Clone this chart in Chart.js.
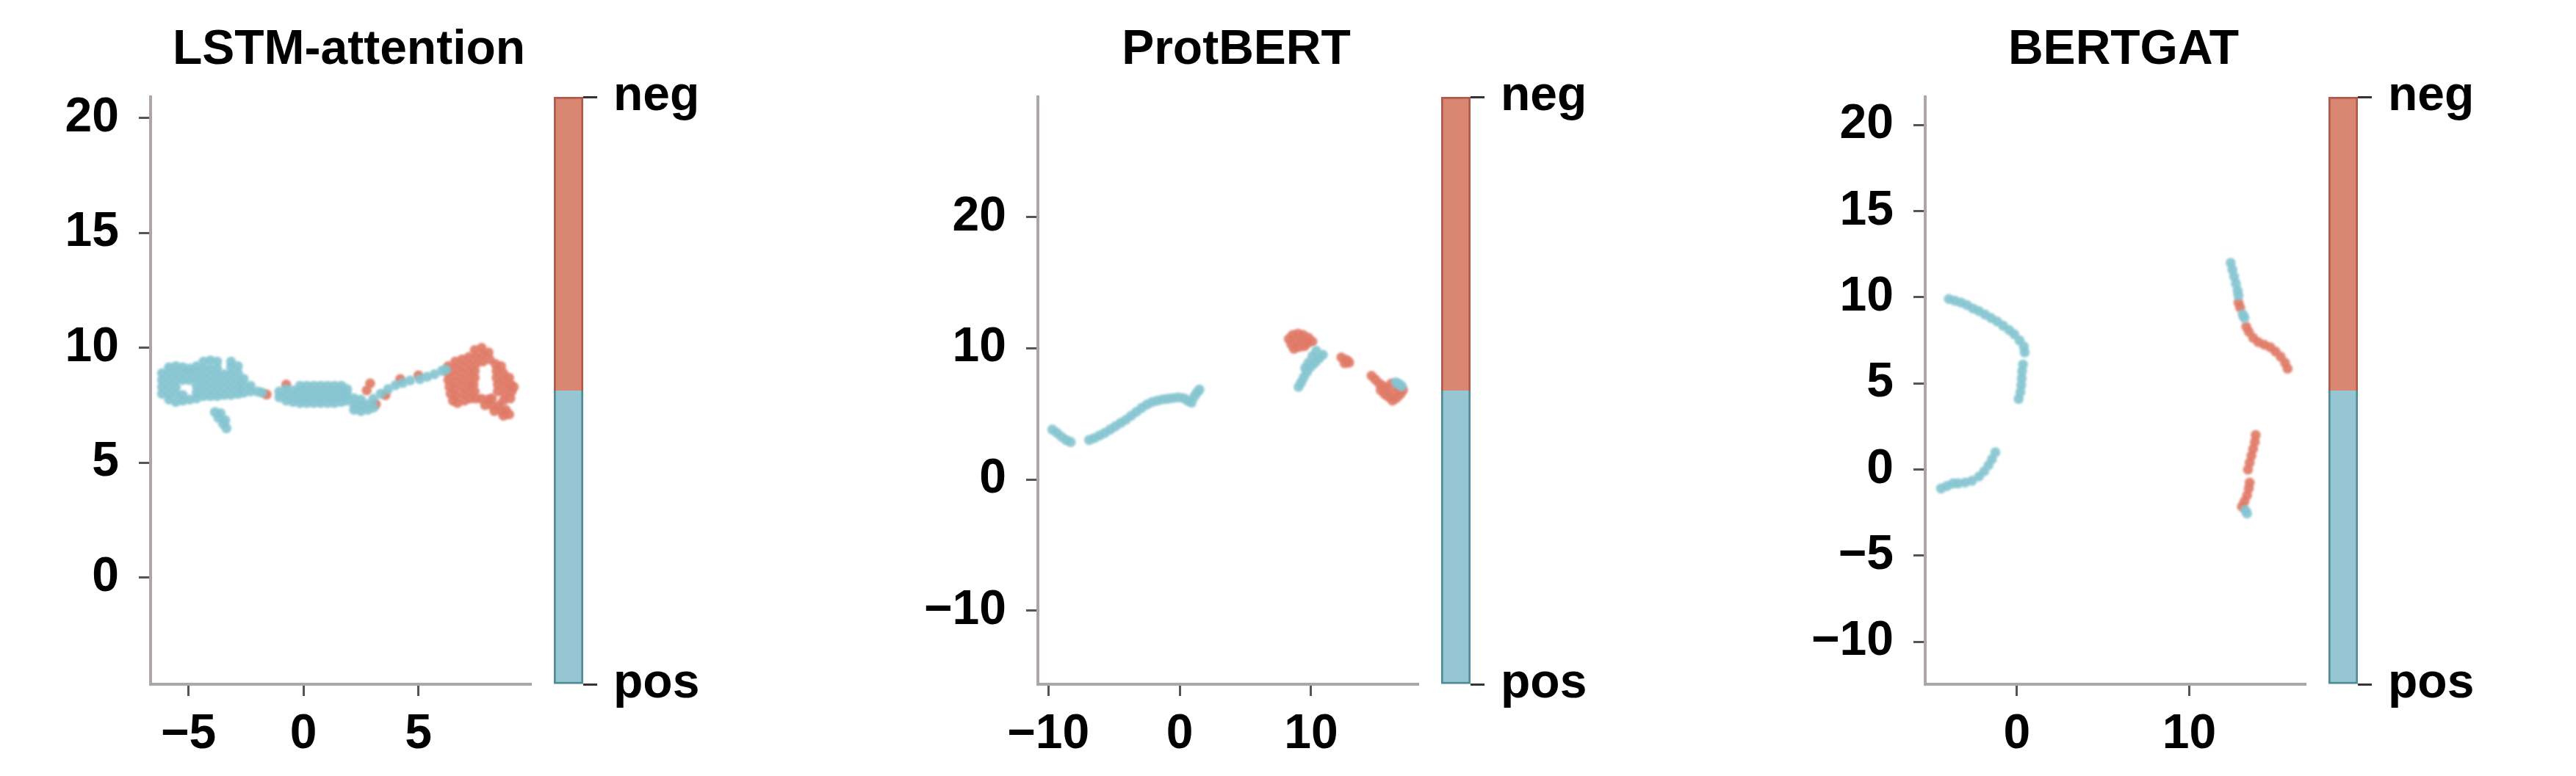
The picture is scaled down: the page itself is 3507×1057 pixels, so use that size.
<!DOCTYPE html>
<html lang="en">
<head>
  <meta charset="UTF-8">
  <title>Embedding comparison</title>
  <script src="https://cdn.jsdelivr.net/npm/chart.js"></script>
  <style>
    body { margin: 0; background: #fff; width: 3507px; height: 1057px; position: relative; overflow: hidden; font-family: "Liberation Sans", Arial, sans-serif; }
    canvas { position: absolute; top: 0; }
    .title { position: absolute; top: 31px; font-size: 66px; line-height: 66px; font-weight: bold; color: #000; white-space: nowrap; transform: translateX(-50%); }
  </style>
</head>
<body>
  <script>
    // ---- data ----
    const titles = ['LSTM-attention', 'ProtBERT', 'BERTGAT'];
    const classes = ['pos', 'neg'];

    const lstmPos = [
      [-6.15,8.0],[-6.15,8.3],[-6.15,8.6],[-6.15,8.9],
      [-5.85,7.75],[-5.85,8.0],[-5.85,8.3],[-5.85,8.6],[-5.85,8.9],[-5.85,9.15],
      [-5.55,7.65],[-5.55,8.0],[-5.55,8.3],[-5.55,8.6],[-5.55,8.9],[-5.55,9.2],
      [-5.25,7.7],[-5.25,7.95],[-5.25,8.6],[-5.25,8.9],[-5.25,9.15],
      [-4.95,7.75],[-4.95,8.6],[-4.95,8.9],[-4.95,9.1],
      [-4.65,7.8],[-4.65,8.05],[-4.65,8.35],[-4.65,8.65],[-4.65,8.95],[-4.65,9.2],
      [-4.35,7.9],[-4.35,8.2],[-4.35,8.5],[-4.35,8.8],[-4.35,9.1],[-4.35,9.4],
      [-4.05,7.9],[-4.05,8.2],[-4.05,8.5],[-4.05,8.8],[-4.05,9.1],[-4.05,9.45],
      [-3.75,7.9],[-3.75,8.2],[-3.75,8.5],[-3.75,8.8],[-3.75,9.1],[-3.75,9.4],
      [-3.45,7.95],[-3.45,8.25],[-3.45,8.55],[-3.45,8.85],
      [-3.15,7.95],[-3.15,8.25],[-3.15,8.55],[-3.15,8.85],[-3.15,9.15],[-3.15,9.4],
      [-2.85,8.0],[-2.85,8.3],[-2.85,8.6],[-2.85,8.9],[-2.85,9.2],
      [-2.6,8.05],[-2.6,8.35],[-2.6,8.65],
      [-2.3,8.1],[-2.3,8.35],[-2.0,8.1],[-1.8,8.05],
      [-3.85,7.2],[-3.7,6.95],[-3.6,7.15],[-3.5,6.7],[-3.35,6.5],[-3.4,6.85],
      [-1.05,7.85],[-1.05,8.1],
      [-0.75,7.7],[-0.75,7.95],[-0.75,8.2],
      [-0.45,7.65],[-0.45,7.9],[-0.45,8.15],
      [-0.15,7.6],[-0.15,7.85],[-0.15,8.1],[-0.15,8.35],
      [0.15,7.6],[0.15,7.85],[0.15,8.1],[0.15,8.35],
      [0.45,7.6],[0.45,7.85],[0.45,8.1],[0.45,8.35],
      [0.75,7.6],[0.75,7.85],[0.75,8.1],[0.75,8.35],
      [1.05,7.6],[1.05,7.85],[1.05,8.1],[1.05,8.35],
      [1.35,7.6],[1.35,7.85],[1.35,8.1],[1.35,8.35],
      [1.65,7.65],[1.65,7.9],[1.65,8.15],[1.65,8.35],
      [1.9,7.7],[1.9,7.95],[1.9,8.2],
      [2.2,7.3],[2.2,7.55],[2.2,7.8],[2.5,7.25],[2.5,7.5],[2.5,7.75],
      [2.8,7.3],[2.8,7.55],[3.05,7.4],
      [3.04,7.78],[3.36,8.0],[3.68,8.2],[4.0,8.37],[4.32,8.47],[4.64,8.58],
      [5.06,8.64],[5.38,8.74],[5.7,8.85],[6.02,9.0],[6.2,9.05]
    ];
    const lstmNeg = [
      [-1.6,7.97],[-0.75,8.4],[2.75,8.15],[2.9,8.45],[3.15,7.55],[3.57,7.94],[4.21,8.64],[5.0,8.8],
      [6.3,9.2],[6.3,8.9],[6.3,8.6],[6.35,8.3],[6.4,8.0],[6.5,7.7],
      [6.6,9.4],[6.6,9.1],[6.6,8.8],[6.6,8.5],[6.6,8.2],[6.65,7.9],[6.7,7.6],
      [6.9,9.5],[6.9,9.2],[6.9,8.9],[6.9,8.6],[6.9,8.3],[6.95,8.0],[7.0,7.7],
      [7.2,9.6],[7.2,9.3],[7.2,9.0],[7.2,8.7],[7.2,8.4],[7.2,8.1],[7.25,7.8],
      [7.45,9.9],[7.5,9.6],[7.5,9.3],[7.75,10.0],[7.8,9.7],[7.8,9.4],[8.05,9.8],[8.1,9.5],
      [7.45,9.0],[7.45,8.7],[7.4,8.4],[7.45,8.1],[7.5,7.8],
      [8.35,9.3],[8.4,9.0],[8.4,8.7],[8.45,8.4],[8.45,8.1],[8.6,9.2],[8.7,8.9],[8.7,8.6],
      [8.75,8.3],[8.75,8.0],[8.7,7.7],[8.95,8.7],[9.0,8.4],[9.05,8.1],[9.0,7.8],[9.15,8.3],
      [7.75,7.78],[8.05,7.75],[8.2,7.8],[7.9,7.5],[8.2,7.5],[8.5,7.5],[8.3,7.25],[8.6,7.25],
      [8.8,7.3],[8.7,7.05],[8.95,7.1]
    ];

    const protPos = [
      [-9.7,3.8],[-9.35,3.55],[-9.0,3.25],[-8.65,3.0],[-8.3,2.85],
      [-6.9,3.0],[-6.5,3.15],[-6.1,3.35],[-5.7,3.55],[-5.3,3.8],[-4.9,4.05],[-4.5,4.3],
      [-4.1,4.55],[-3.7,4.85],[-3.3,5.15],[-2.9,5.45],[-2.5,5.7],[-2.1,5.9],[-1.7,6.0],
      [-1.3,6.1],[-0.9,6.15],[-0.5,6.2],[-0.1,6.25],[0.3,6.2],[0.6,6.0],[0.9,5.85],
      [1.1,6.3],[1.3,6.6],[1.5,6.85],
      [10.9,9.5],[10.6,9.2],[10.3,8.9],[10.0,8.6],[9.7,8.2],[9.45,7.8],[9.25,7.4],[9.05,7.05],
      [10.4,9.8],[10.1,9.4],[9.8,8.9],[9.55,8.5],
      [16.7,7.25],[16.9,7.1],[16.45,7.4]
    ];
    const protNeg = [
      [8.3,10.7],[8.6,11.0],[9.0,11.1],[9.4,11.0],[9.8,10.8],[8.5,10.3],[8.9,10.5],[9.3,10.6],
      [9.7,10.4],[8.7,9.95],[9.1,10.1],[10.1,10.5],[9.5,10.15],
      [12.3,9.3],[12.7,9.1],[12.55,8.85],[12.9,8.9],
      [14.6,7.9],[14.9,7.6],[15.2,7.3],[15.5,7.1],[15.8,6.9],[15.6,6.5],[15.9,6.3],[16.2,6.0],
      [16.5,6.2],[16.8,6.5],[17.0,6.8],[16.3,6.6],[16.6,7.0],[16.1,7.3],[15.3,6.8]
    ];

    const gatPos = [
      [-3.95,9.9],[-3.6,9.8],[-3.25,9.7],[-2.9,9.55],[-2.55,9.35],[-2.2,9.2],[-1.85,9.0],
      [-1.5,8.8],[-1.15,8.6],[-0.8,8.35],[-0.45,8.1],[-0.15,7.85],[0.15,7.5],[0.4,7.15],[0.45,6.8],
      [0.35,6.1],[0.3,5.7],[0.28,5.3],[0.25,4.9],[0.2,4.5],[0.1,4.1],
      [-1.25,1.0],[-1.45,0.6],[-1.65,0.25],[-1.9,-0.1],[-2.2,-0.4],[-2.6,-0.65],[-3.0,-0.75],
      [-3.4,-0.8],[-3.7,-0.8],[-4.05,-0.95],[-4.4,-1.1],
      [12.4,12.0],[12.5,11.6],[12.6,11.2],[12.7,10.8],[12.8,10.4],[12.85,10.1],[13.1,9.0],[13.2,8.8],
      [13.35,-2.55],[13.25,-2.35]
    ];
    const gatNeg = [
      [12.85,9.7],[12.95,9.4],[13.3,8.3],[13.45,8.0],[13.7,7.65],[14.0,7.4],[14.35,7.25],
      [14.7,7.1],[15.0,6.85],[15.3,6.55],[15.55,6.2],[15.7,5.85],
      [13.85,2.0],[13.8,1.6],[13.7,1.2],[13.6,0.8],[13.5,0.4],[13.4,0.0],
      [13.5,-0.75],[13.45,-1.1],[13.35,-1.5],[13.2,-1.85],[13.05,-2.15]
    ];

    // ---- look ----
    const POS_DOT = 'rgba(132,196,208,0.92)';
    const NEG_DOT = 'rgba(224,122,102,0.92)';
    const POS_FILL = '#95c6d1';
    const NEG_FILL = '#d98673';
    const SPINE = '#aca7a4';
    const TICK = '#555';

    Chart.defaults.font.family = '"Liberation Sans", Arial, sans-serif';
    Chart.defaults.font.size = 66;
    Chart.defaults.font.weight = 'bold';
    Chart.defaults.font.lineHeight = 1;
    Chart.defaults.color = '#000';
    Chart.defaults.animation = false;
    Chart.defaults.plugins.legend.display = false;
    Chart.defaults.plugins.tooltip.enabled = false;

    // the source image is a soft, slightly blurred scan: soften the dots a bit
    const softDots = {
      id: 'softDots',
      beforeDatasetsDraw(chart) { chart.ctx.save(); chart.ctx.filter = 'blur(1.6px)'; },
      afterDatasetsDraw(chart) { chart.ctx.restore(); }
    };

    const AXIS_W = 518, TOP = 132, PLOT_H = 800, H = 1057;
    const YAXIS_W = 200;

    const panels = [
      { left: 205,  title: titles[0], pos: lstmPos, neg: lstmNeg, x: [-6.65, 9.9],  y: [-4.64, 20.92], xs: 5,  ys: 5 },
      { left: 1413, title: titles[1], pos: protPos, neg: protNeg, x: [-10.8, 18.17], y: [-15.6, 29.14], xs: 10, ys: 10 },
      { left: 2621, title: titles[2], pos: gatPos,  neg: gatNeg,  x: [-5.32, 16.75], y: [-12.46, 21.63], xs: 10, ys: 5 }
    ];

    const fmt = v => v < 0 ? '\u2212' + Math.abs(v) : String(v);

    function addCanvas(left, width) {
      const c = document.createElement('canvas');
      c.width = width; c.height = H;
      c.style.left = left + 'px';
      document.body.appendChild(c);
      return c;
    }

    const axisStyle = (step, pad) => ({
      type: 'linear',
      ticks: { stepSize: step, includeBounds: false, padding: pad, callback: fmt },
      grid: { drawOnChartArea: false, drawTicks: true, tickLength: 16, tickWidth: 3, tickColor: TICK },
      border: { display: true, color: SPINE, width: 4 }
    });

    panels.forEach(p => {
      // title
      const t = document.createElement('div');
      t.className = 'title';
      t.textContent = p.title;
      t.style.left = (p.left + 270) + 'px';
      document.body.appendChild(t);

      // scatter
      const sc = addCanvas(p.left - YAXIS_W, YAXIS_W + AXIS_W + 12);
      const xo = axisStyle(p.xs, 20), yo = axisStyle(p.ys, 27);
      xo.min = p.x[0]; xo.max = p.x[1];
      yo.min = p.y[0]; yo.max = p.y[1];
      xo.afterFit = s => { s.height = H - TOP - PLOT_H; };
      yo.afterFit = s => { s.width = YAXIS_W; };
      new Chart(sc, {
        type: 'scatter',
        data: {
          datasets: [
            { label: classes[0], data: p.pos.map(([x, y]) => ({ x, y })), backgroundColor: POS_DOT, pointRadius: 6.8, borderWidth: 0 },
            { label: classes[1], data: p.neg.map(([x, y]) => ({ x, y })), backgroundColor: NEG_DOT, pointRadius: 6.8, borderWidth: 0 }
          ]
        },
        options: {
          responsive: false,
          layout: { padding: { top: TOP, right: 12, bottom: 0, left: 0 } },
          scales: { x: xo, y: yo }
        },
        plugins: [softDots]
      });

      // colorbar: two stacked halves
      const cb = addCanvas(p.left + 549, 260);
      new Chart(cb, {
        type: 'bar',
        data: {
          labels: [''],
          datasets: [
            { label: classes[0], data: [0.5], backgroundColor: POS_FILL, borderColor: '#4f8d96',
              borderWidth: { left: 3, right: 3, bottom: 3, top: 0 }, borderSkipped: false,
              barPercentage: 1, categoryPercentage: 1 },
            { label: classes[1], data: [0.5], backgroundColor: NEG_FILL, borderColor: '#b05a4c',
              borderWidth: { left: 3, right: 3, top: 3, bottom: 0 }, borderSkipped: false,
              barPercentage: 1, categoryPercentage: 1 }
          ]
        },
        options: {
          responsive: false,
          layout: { padding: { top: TOP, right: 0, bottom: H - TOP - PLOT_H, left: 0 } },
          scales: {
            x: { display: false, stacked: true },
            y: {
              position: 'right', stacked: true, min: 0, max: 1,
              afterBuildTicks: s => { s.ticks = [{ value: 0 }, { value: 1 }]; },
              afterFit: s => { s.width = 220; },
              ticks: { padding: 22, callback: v => classes[v] },
              grid: { drawOnChartArea: false, tickLength: 19, tickWidth: 3, tickColor: '#333' },
              border: { display: false }
            }
          }
        }
      });
    });
  </script>
</body>
</html>
